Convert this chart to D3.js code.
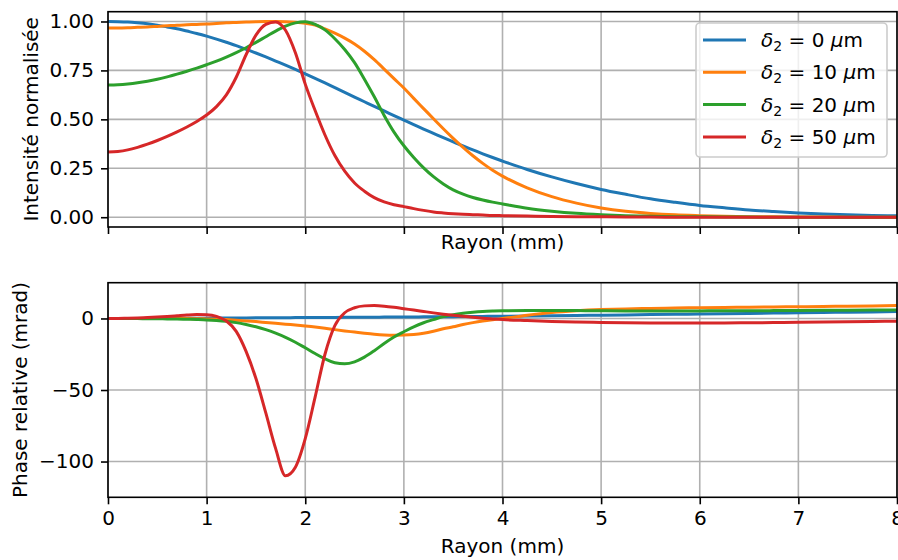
<!DOCTYPE html>
<html><head><meta charset="utf-8">
<script src="https://cdn.jsdelivr.net/npm/d3@7"></script>
<style>
body{margin:0;background:#fff}
svg{display:block}
text{font-family:"DejaVu Sans",sans-serif;fill:#000}
</style>
</head><body>
<svg id="c" width="898" height="560"></svg>
<script>
// Radius (mm)
const xs = [0,0.1,0.2,0.3,0.4,0.5,0.6,0.7,0.8,0.9,1.0,1.1,1.2,1.3,1.4,1.5,1.6,1.7,1.8,1.9,2.0,
  2.1,2.2,2.3,2.4,2.5,2.6,2.7,2.8,2.9,3.0,3.1,3.2,3.3,3.4,3.5,3.6,3.7,3.8,3.9,4.0,
  4.25,4.5,4.75,5.0,5.25,5.5,5.75,6.0,6.25,6.5,6.75,7.0,7.25,7.5,7.75,8.0];

const seriesLabels = ["0", "10", "20", "50"];
const colors = ["#1f77b4", "#ff7f0e", "#2ca02c", "#d62728"];

// Normalised intensity
const int0 = [1,0.999,0.997,0.993,0.988,0.981,0.972,0.963,0.951,0.939,0.925,0.910,0.894,0.877,0.858,0.839,0.819,0.798,0.777,0.755,0.732,
  0.709,0.686,0.662,0.638,0.614,0.590,0.566,0.543,0.519,0.496,0.473,0.450,0.428,0.406,0.385,0.364,0.344,0.324,0.305,0.287,
  0.244,0.206,0.172,0.142,0.117,0.094,0.076,0.060,0.048,0.037,0.029,0.022,0.017,0.012,0.009,0.007];
const int10 = [0.967,0.967,0.968,0.970,0.972,0.975,0.978,0.981,0.983,0.985,0.987,0.990,0.993,0.995,0.997,0.999,1.000,1.000,0.999,0.996,0.991,
  0.982,0.962,0.940,0.915,0.885,0.848,0.805,0.757,0.708,0.660,0.607,0.555,0.503,0.452,0.403,0.357,0.314,0.275,0.240,0.210,
  0.150,0.105,0.072,0.047,0.030,0.019,0.012,0.008,0.005,0.003,0.002,0.001,0.001,0,0,0];
const int20 = [0.675,0.677,0.681,0.687,0.695,0.705,0.717,0.731,0.746,0.762,0.779,0.797,0.818,0.841,0.866,0.893,0.922,0.951,0.976,0.993,0.999,
  0.985,0.957,0.912,0.857,0.790,0.705,0.615,0.520,0.435,0.365,0.305,0.252,0.207,0.170,0.140,0.118,0.101,0.088,0.077,0.068,
  0.046,0.031,0.020,0.013,0.008,0.005,0.003,0.002,0.001,0.001,0,0,0,0,0,0];
const int50 = [0.333,0.336,0.344,0.357,0.373,0.392,0.413,0.436,0.461,0.489,0.522,0.565,0.625,0.715,0.830,0.930,0.985,0.998,0.955,0.840,0.680,
  0.545,0.420,0.315,0.235,0.175,0.133,0.100,0.078,0.064,0.054,0.044,0.035,0.027,0.022,0.018,0.015,0.013,0.011,0.009,0.008,
  0.006,0.004,0.003,0.002,0.001,0.001,0,0,0,0,0,0,0,0,0,0];

// Relative phase (mrad)
const ph0 = [0,0.01,0.02,0.03,0.05,0.07,0.09,0.12,0.15,0.19,0.23,0.27,0.31,0.35,0.39,0.43,0.47,0.51,0.55,0.59,0.63,
  0.67,0.71,0.75,0.79,0.83,0.87,0.91,0.95,0.99,1.03,1.08,1.13,1.18,1.23,1.28,1.34,1.40,1.46,1.52,1.58,
  1.75,1.93,2.12,2.31,2.51,2.71,2.91,3.12,3.33,3.54,3.75,3.96,4.17,4.38,4.59,4.80];
const ph10 = [0,0,0,0,0,0,-0.05,-0.1,-0.1,-0.2,-0.3,-0.5,-0.8,-1.2,-1.7,-2.2,-2.8,-3.4,-4.0,-4.6,-5.2,
  -5.9,-6.8,-7.8,-8.7,-9.5,-10.3,-11.0,-11.5,-11.7,-11.6,-11.2,-10.3,-8.9,-7.2,-5.8,-4.2,-2.9,-1.8,-0.9,-0.1,
  2.3,4.2,5.4,6.2,6.7,7.0,7.3,7.5,7.7,7.9,8.1,8.2,8.4,8.6,8.8,9.0];
const ph20 = [0,0,-0.05,-0.1,-0.15,-0.2,-0.3,-0.4,-0.55,-0.75,-1.0,-1.4,-2.0,-2.9,-4.2,-5.8,-7.8,-10.3,-13.2,-16.6,-20.5,
  -24.5,-28.2,-31.0,-31.7,-30.3,-27.0,-22.5,-17.5,-13.0,-9.3,-5.8,-3.0,-0.8,1.3,2.7,3.7,4.4,4.9,5.2,5.4,
  5.5,5.5,5.5,5.4,5.3,5.3,5.3,5.3,5.4,5.4,5.5,5.6,5.7,5.8,5.9,6.0];
const ph50 = [0,0.05,0.2,0.4,0.7,1.0,1.4,1.9,2.4,2.7,2.6,1.5,-1.8,-9,-23,-42,-66,-91,-110,-104,-84,
  -55,-25,-5,4,7.5,8.8,9.0,8.6,7.8,6.8,5.9,4.9,3.9,3.0,2.2,1.5,0.8,0.2,-0.3,-0.8,
  -1.5,-2.1,-2.5,-2.8,-3.0,-3.1,-3.1,-3.1,-3.1,-3.0,-2.9,-2.7,-2.5,-2.3,-2.1,-1.9];

const xTicks = [0,1,2,3,4,5,6,7,8];
const intTicks = [0,0.25,0.5,0.75,1.0];
const phTicks = [-100,-50,0];
const xLabel = "Rayon (mm)";
const intLabel = "Intensité normalisée";
const phLabel = "Phase relative (mrad)";

const svg = d3.select("#c");
const L = 108, R = 897;
const FS = 20;
const x = d3.scaleLinear().domain([0, 8]).range([L, R]);

const panels = [
  {top: 11.7, bottom: 227, domain: [-0.05, 1.05], ticks: intTicks, fmt: d3.format(".2f"),
   series: [int0, int10, int20, int50], ylabel: intLabel, showX: false, xlabelBase: 249, ylabelX: 37.5},
  {top: 282.7, bottom: 497.3, domain: [-125, 25], ticks: phTicks, fmt: d3.format("d"),
   series: [ph0, ph10, ph20, ph50], ylabel: phLabel, showX: true, xlabelBase: 553, ylabelX: 27}
];

const defs = svg.append("defs");
panels.forEach((p, pi) => {
  const y = d3.scaleLinear().domain(p.domain).range([p.bottom, p.top]);
  const g = svg.append("g");
  defs.append("clipPath").attr("id", "clip" + pi).append("rect")
    .attr("x", L).attr("y", p.top).attr("width", R - L).attr("height", p.bottom - p.top);

  // grid
  const grid = g.append("g").attr("stroke", "#b0b0b0").attr("stroke-width", 1.6);
  xTicks.forEach(t => grid.append("line").attr("x1", x(t)).attr("x2", x(t)).attr("y1", p.top).attr("y2", p.bottom));
  p.ticks.forEach(t => grid.append("line").attr("x1", L).attr("x2", R).attr("y1", y(t)).attr("y2", y(t)));

  // lines
  const line = d3.line().x((d, i) => x(xs[i])).y(d => y(d)).curve(d3.curveMonotoneX);
  const lg = g.append("g").attr("clip-path", `url(#clip${pi})`);
  p.series.forEach((s, si) => {
    lg.append("path").attr("d", line(s)).attr("fill", "none")
      .attr("stroke", colors[si]).attr("stroke-width", 3).attr("stroke-linejoin", "round").attr("stroke-linecap", "butt");
  });

  // spines
  g.append("rect").attr("x", L).attr("y", p.top).attr("width", R - L).attr("height", p.bottom - p.top)
    .attr("fill", "none").attr("stroke", "#000").attr("stroke-width", 1.6);

  // x axis ticks
  const xa = d3.axisBottom(x).tickValues(xTicks).tickSize(7).tickPadding(7)
    .tickFormat(p.showX ? d3.format("d") : () => "");
  const xg = g.append("g").attr("transform", `translate(0,${p.bottom})`).call(xa);
  xg.select(".domain").remove();
  xg.selectAll(".tick line").attr("stroke", "#000").attr("stroke-width", 1.6);
  xg.selectAll(".tick text").attr("font-size", FS).attr("font-family", "DejaVu Sans").attr("fill", "#000");

  // y axis ticks
  const ya = d3.axisLeft(y).tickValues(p.ticks).tickSize(7).tickPadding(7).tickFormat(p.fmt);
  const yg = g.append("g").attr("transform", `translate(${L},0)`).call(ya);
  yg.select(".domain").remove();
  yg.selectAll(".tick line").attr("stroke", "#000").attr("stroke-width", 1.6);
  yg.selectAll(".tick text").attr("font-size", FS).attr("font-family", "DejaVu Sans").attr("fill", "#000");

  // axis labels
  g.append("text").attr("x", (L + R) / 2).attr("y", p.xlabelBase).attr("text-anchor", "middle")
    .attr("font-size", FS).text(xLabel);
  g.append("text").attr("transform", `translate(${p.ylabelX},${(p.top + p.bottom) / 2}) rotate(-90)`)
    .attr("text-anchor", "middle").attr("font-size", FS).text(p.ylabel);
});

// legend
const leg = svg.append("g");
leg.append("rect").attr("x", 696).attr("y", 23).attr("width", 191).attr("height", 134).attr("rx", 4)
  .attr("fill", "#fff").attr("fill-opacity", 0.8).attr("stroke", "#cccccc").attr("stroke-width", 1.6);
const rowY = [40, 72.3, 104.6, 136.9];
seriesLabels.forEach((lab, i) => {
  leg.append("line").attr("x1", 703).attr("x2", 746).attr("y1", rowY[i]).attr("y2", rowY[i])
    .attr("stroke", colors[i]).attr("stroke-width", 3);
  const t = leg.append("text").attr("x", 761).attr("y", rowY[i] + 7).attr("font-size", FS);
  t.append("tspan").attr("font-style", "italic").text("δ");
  t.append("tspan").attr("font-size", 14).attr("dy", 4).text("2");
  t.append("tspan").attr("dy", -4).text(" = " + lab + " ");
  t.append("tspan").attr("font-style", "italic").text("μ");
  t.append("tspan").text("m");
});
</script>
</body></html>
